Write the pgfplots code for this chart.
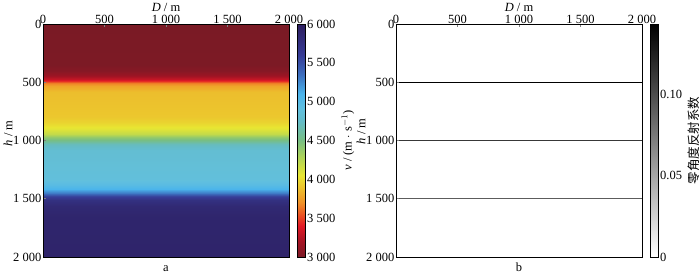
\documentclass[border=0pt]{standalone}
\usepackage{pgfplots}
\pgfplotsset{compat=1.18}
\usepackage{pgfplotstable}
\usepackage{fontspec}
\setmainfont{Liberation Serif}
\newfontfamily\cjk{Noto Sans CJK SC}

\pgfplotstableread{
x h v
0 0 3000
2000 0 3000
0 350 3010
2000 350 3010
0 400 3060
2000 400 3060
0 440 3150
2000 440 3150
0 470 3300
2000 470 3300
0 490 3450
2000 490 3450
0 505 3650
2000 505 3650
0 530 3780
2000 530 3780
0 580 3880
2000 580 3880
0 700 3900
2000 700 3900
0 800 3920
2000 800 3920
0 850 3980
2000 850 3980
0 900 4080
2000 900 4080
0 940 4200
2000 940 4200
0 970 4380
2000 970 4380
0 1000 4550
2000 1000 4550
0 1030 4700
2000 1030 4700
0 1080 4820
2000 1080 4820
0 1200 4850
2000 1200 4850
0 1330 4880
2000 1330 4880
0 1380 4980
2000 1380 4980
0 1420 5100
2000 1420 5100
0 1450 5300
2000 1450 5300
0 1480 5550
2000 1480 5550
0 1510 5750
2000 1510 5750
0 1560 5850
2000 1560 5850
0 1650 5900
2000 1650 5900
0 2000 5920
2000 2000 5920
}\veldata

\pgfplotsset{
  /pgf/number format/assume math mode=true,
  /pgf/number format/1000 sep={\hspace{0.25em}},
  common/.style={
    scale only axis, width=246pt, height=233pt,
    xmin=0, xmax=2000, ymin=0, ymax=2000, y dir=reverse,
    xtick={0,500,1000,1500,2000}, ytick={0,500,1000,1500,2000},
    xtick pos=right, xticklabel pos=right,
    ytick pos=left, yticklabel pos=left,
    tick align=inside, major tick length=3pt,
    xlabel={\textit{D} / m}, ylabel={\textit{h} / m},
    axis line style={line width=0.8pt},
    tick style={line width=0.8pt},
    enlargelimits=false, axis on top,
    xticklabel style={inner sep=0.5pt},
    yticklabel style={inner sep=1.5pt},
    every axis x label/.style={at={(axis description cs:0.5,1)}, anchor=base, yshift=12.8pt},
  },
  cbstyle/.style={
    at={(parent axis.north east)}, anchor=north west, xshift=0pt, width=8pt,
    yticklabel pos=right, ytick style={draw=none},
    axis line style={line width=0.8pt},
    yticklabel style={inner sep=1.5pt},
  },
}

\begin{document}
\begin{tikzpicture}[font=\fontsize{12.5}{15}\selectfont]
\useasboundingbox (0,0) rectangle (700pt,276pt);

\begin{axis}[common, at={(43pt,19pt)}, anchor=south west, name=A,
  every axis y label/.style={at={(axis description cs:-0.142,0.53)}, rotate=90, anchor=center},
  colormap={vel}{
    rgb255(0cm)=(122,26,37);
    rgb255(2cm)=(165,20,36);
    rgb255(4cm)=(225,25,38);
    rgb255(5.5cm)=(235,85,35);
    rgb255(7cm)=(240,145,40);
    rgb255(9cm)=(236,195,45);
    rgb255(10.5cm)=(232,230,50);
    rgb255(13cm)=(170,210,90);
    rgb255(15cm)=(120,190,130);
    rgb255(17.5cm)=(100,188,200);
    rgb255(19cm)=(98,192,222);
    rgb255(21cm)=(75,180,235);
    rgb255(23.5cm)=(60,110,190);
    rgb255(26cm)=(55,60,150);
    rgb255(30cm)=(45,30,95)
  },
  point meta min=3000, point meta max=6000,
  colorbar,
  colorbar style={cbstyle, ytick={3000,3500,4000,4500,5000,5500,6000},
    every axis y label/.style={at={(axis description cs:6.3,0.5)}, rotate=90, anchor=center},
    ylabel={\textit{v} / (m $\cdot$ s$^{-1}$)}},
]
\addplot[surf, shader=interp, mesh/cols=2, point meta=explicit]
  table[x=x, y=h, meta=v] {\veldata};
\end{axis}
\node[anchor=base] at ([yshift=-14pt]A.south) {a};

\begin{axis}[common, at={(396pt,19pt)}, anchor=south west, name=B,
  every axis y label/.style={at={(axis description cs:-0.142,0.54)}, rotate=90, anchor=center},
  colormap={wb}{gray(0cm)=(1); gray(1cm)=(0)},
  point meta min=0, point meta max=0.143,
  colorbar,
  colorbar style={cbstyle, ytick={0,0.05,0.1}, yticklabels={0,0.05,0.10},
    every axis y label/.style={at={(axis description cs:5.4,0.5)}, rotate=90, anchor=center},
    ylabel={\cjk 零角度反射系数}},
]
\addplot[mesh, line width=1.2pt, point meta=explicit]
  coordinates {(0,500) [0.143] (2000,500) [0.143]};
\addplot[mesh, line width=1pt, point meta=explicit]
  coordinates {(0,1000) [0.111] (2000,1000) [0.111]};
\addplot[mesh, line width=1pt, point meta=explicit]
  coordinates {(0,1500) [0.091] (2000,1500) [0.091]};
\end{axis}
\node[anchor=base] at ([yshift=-14pt]B.south) {b};
\end{tikzpicture}
\end{document}
